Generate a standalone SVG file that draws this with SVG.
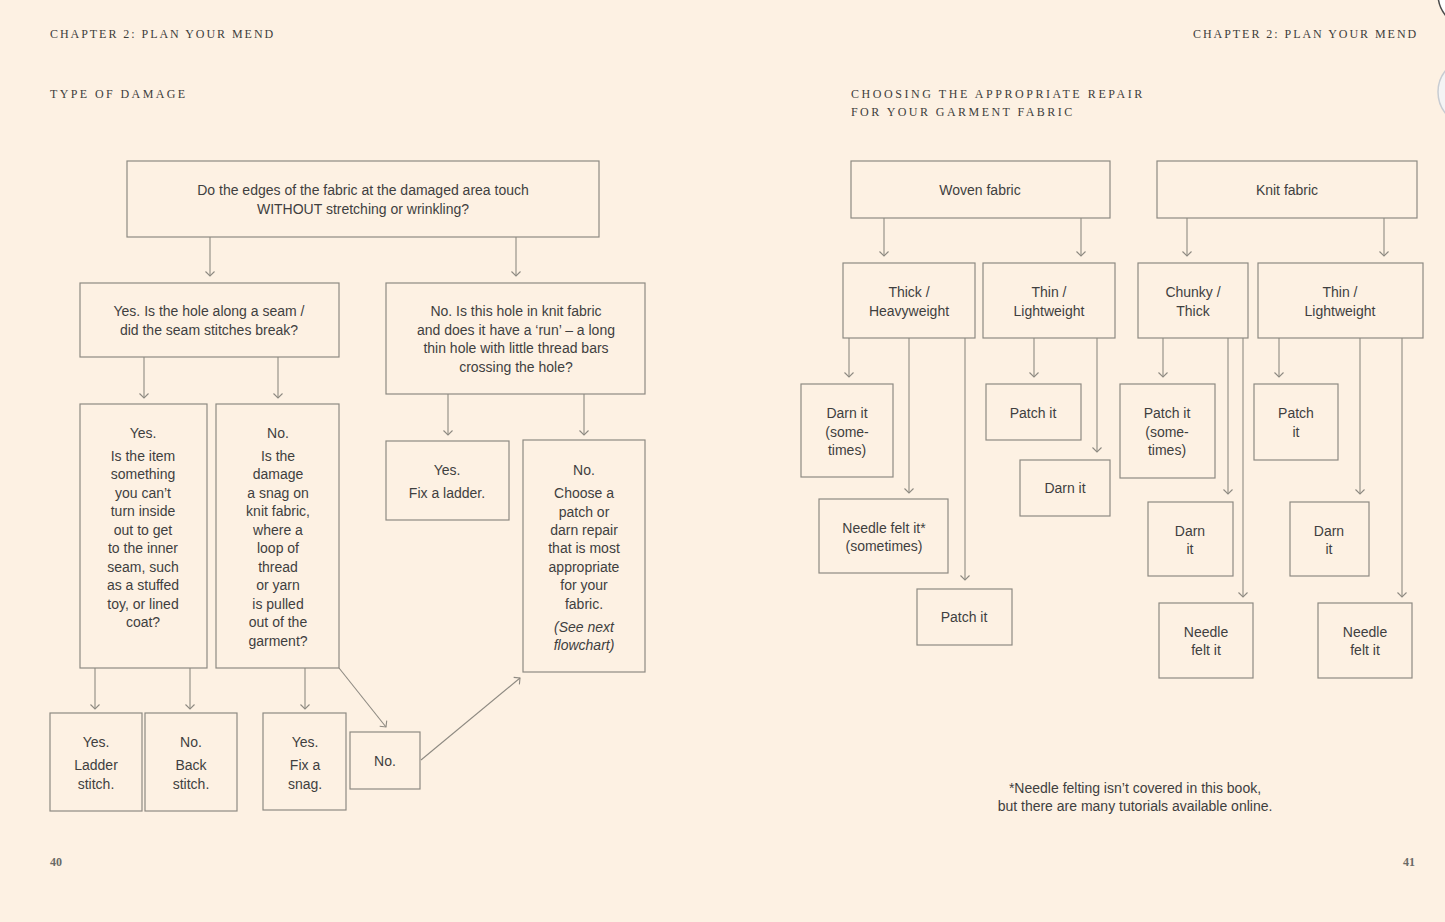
<svg xmlns="http://www.w3.org/2000/svg" width="1445" height="922" viewBox="0 0 1445 922">
<style>
.bg{fill:#fdf1e3}
.box{fill:none;stroke:#8e8a82;stroke-width:1.2}
.t{font-family:"Liberation Sans",Arial,sans-serif;font-size:14px;fill:#3f3f3f;text-anchor:middle}
.i{font-style:italic}
.h{font-family:"Liberation Serif","Times New Roman",serif;font-size:12px;fill:#3e3e3c;letter-spacing:1.8px}
.c{fill:none;stroke:#8e8a82;stroke-width:1.1;marker-end:url(#ah)}
</style>
<defs>
<marker id="ah" viewBox="0 0 12 12" refX="11" refY="6" markerWidth="12" markerHeight="12" markerUnits="userSpaceOnUse" orient="auto">
<path d="M6.5,1.5 L11,6 L6.5,10.5" fill="none" stroke="#8e8a82" stroke-width="1.1"/>
</marker>
</defs>
<rect class="bg" x="0" y="0" width="1445" height="922"/>
<circle cx="1472" cy="-6" r="34" fill="#ffffff" stroke="#4a4a4a" stroke-width="1.5"/>
<circle cx="1472" cy="92" r="34" fill="#f4f4f4" stroke="#c8ccd2" stroke-width="1.5"/>

<g id="headers">
<text class="h" x="50" y="38" textLength="225" lengthAdjust="spacing">CHAPTER 2: PLAN YOUR MEND</text>
<text class="h" x="1193" y="38" textLength="225" lengthAdjust="spacing">CHAPTER 2: PLAN YOUR MEND</text>
<text class="h" x="50" y="98" textLength="137" lengthAdjust="spacing">TYPE OF DAMAGE</text>
<text class="h" x="851" y="98" textLength="293" lengthAdjust="spacing">CHOOSING THE APPROPRIATE REPAIR</text>
<text class="h" x="851" y="116" textLength="223" lengthAdjust="spacing">FOR YOUR GARMENT FABRIC</text>
<text class="h" x="50" y="866" style="letter-spacing:0;font-weight:bold;fill:#6a6a66">40</text>
<text class="h" x="1403" y="866" style="letter-spacing:0;font-weight:bold;fill:#6a6a66">41</text>
</g>

<g id="connectors">
<line class="c" x1="210" y1="237" x2="210" y2="276"/>
<line class="c" x1="516" y1="237" x2="516" y2="276"/>
<line class="c" x1="144" y1="357" x2="144" y2="398"/>
<line class="c" x1="278" y1="357" x2="278" y2="398"/>
<line class="c" x1="448" y1="394" x2="448" y2="435"/>
<line class="c" x1="584" y1="394" x2="584" y2="435"/>
<line class="c" x1="95" y1="668" x2="95" y2="709"/>
<line class="c" x1="190" y1="668" x2="190" y2="709"/>
<line class="c" x1="305" y1="668" x2="305" y2="709"/>
<line class="c" x1="339" y1="668" x2="386" y2="727"/>
<line class="c" x1="421" y1="760" x2="520" y2="678"/>

<line class="c" x1="884" y1="218" x2="884" y2="256"/>
<line class="c" x1="1081" y1="218" x2="1081" y2="256"/>
<line class="c" x1="1187" y1="218" x2="1187" y2="256"/>
<line class="c" x1="1384" y1="218" x2="1384" y2="256"/>

<line class="c" x1="849" y1="338" x2="849" y2="377"/>
<line class="c" x1="909" y1="338" x2="909" y2="493"/>
<line class="c" x1="965" y1="338" x2="965" y2="580"/>
<line class="c" x1="1034" y1="338" x2="1034" y2="377"/>
<line class="c" x1="1097" y1="338" x2="1097" y2="452"/>
<line class="c" x1="1163" y1="338" x2="1163" y2="377"/>
<line class="c" x1="1228" y1="338" x2="1228" y2="494"/>
<line class="c" x1="1243" y1="338" x2="1243" y2="597"/>
<line class="c" x1="1279" y1="338" x2="1279" y2="377"/>
<line class="c" x1="1360" y1="338" x2="1360" y2="494"/>
<line class="c" x1="1402" y1="338" x2="1402" y2="597"/>
</g>

<g id="q-edges">
<rect class="box" x="127" y="161" width="472" height="76"/>
<text class="t" x="363" y="195">Do the edges of the fabric at the damaged area touch</text>
<text class="t" x="363" y="214">WITHOUT stretching or wrinkling?</text>
</g>
<g id="q-seam">
<rect class="box" x="80" y="283" width="259" height="74"/>
<text class="t" x="209" y="316">Yes. Is the hole along a seam /</text>
<text class="t" x="209" y="335">did the seam stitches break?</text>
</g>
<g id="q-run">
<rect class="box" x="386" y="283" width="259" height="111"/>
<text class="t" x="516" y="316">No. Is this hole in knit fabric</text>
<text class="t" x="516" y="335">and does it have a ‘run’ – a long</text>
<text class="t" x="516" y="353">thin hole with little thread bars</text>
<text class="t" x="516" y="372">crossing the hole?</text>
</g>
<g id="q-inside">
<rect class="box" x="80" y="404" width="127" height="264"/>
<text class="t" x="143" y="438">Yes.</text>
<text class="t" x="143" y="461">Is the item</text>
<text class="t" x="143" y="479">something</text>
<text class="t" x="143" y="498">you can’t</text>
<text class="t" x="143" y="516">turn inside</text>
<text class="t" x="143" y="535">out to get</text>
<text class="t" x="143" y="553">to the inner</text>
<text class="t" x="143" y="572">seam, such</text>
<text class="t" x="143" y="590">as a stuffed</text>
<text class="t" x="143" y="609">toy, or lined</text>
<text class="t" x="143" y="627">coat?</text>
</g>
<g id="q-snag">
<rect class="box" x="216" y="404" width="123" height="264"/>
<text class="t" x="278" y="438">No.</text>
<text class="t" x="278" y="461">Is the</text>
<text class="t" x="278" y="479">damage</text>
<text class="t" x="278" y="498">a snag on</text>
<text class="t" x="278" y="516">knit fabric,</text>
<text class="t" x="278" y="535">where a</text>
<text class="t" x="278" y="553">loop of</text>
<text class="t" x="278" y="572">thread</text>
<text class="t" x="278" y="590">or yarn</text>
<text class="t" x="278" y="609">is pulled</text>
<text class="t" x="278" y="627">out of the</text>
<text class="t" x="278" y="646">garment?</text>
</g>
<g id="a-ladder">
<rect class="box" x="386" y="441" width="123" height="79"/>
<text class="t" x="447" y="475">Yes.</text>
<text class="t" x="447" y="498">Fix a ladder.</text>
</g>
<g id="a-choose">
<rect class="box" x="523" y="440" width="122" height="232"/>
<text class="t" x="584" y="475">No.</text>
<text class="t" x="584" y="498">Choose a</text>
<text class="t" x="584" y="517">patch or</text>
<text class="t" x="584" y="535">darn repair</text>
<text class="t" x="584" y="553">that is most</text>
<text class="t" x="584" y="572">appropriate</text>
<text class="t" x="584" y="590">for your</text>
<text class="t" x="584" y="609">fabric.</text>
<text class="t i" x="584" y="632">(See next</text>
<text class="t i" x="584" y="650">flowchart)</text>
</g>
<g id="a-ladderstitch">
<rect class="box" x="50" y="713" width="92" height="98"/>
<text class="t" x="96" y="747">Yes.</text>
<text class="t" x="96" y="770">Ladder</text>
<text class="t" x="96" y="789">stitch.</text>
</g>
<g id="a-backstitch">
<rect class="box" x="145" y="713" width="92" height="98"/>
<text class="t" x="191" y="747">No.</text>
<text class="t" x="191" y="770">Back</text>
<text class="t" x="191" y="789">stitch.</text>
</g>
<g id="a-snag">
<rect class="box" x="263" y="713" width="83" height="97"/>
<text class="t" x="305" y="747">Yes.</text>
<text class="t" x="305" y="770">Fix a</text>
<text class="t" x="305" y="789">snag.</text>
</g>
<g id="a-no">
<rect class="box" x="350" y="732" width="70" height="57"/>
<text class="t" x="385" y="766">No.</text>
</g>

<g id="woven">
<rect class="box" x="851" y="161" width="259" height="57"/>
<text class="t" x="980" y="195">Woven fabric</text>
</g>
<g id="knit">
<rect class="box" x="1157" y="161" width="260" height="57"/>
<text class="t" x="1287" y="195">Knit fabric</text>
</g>
<g id="w-thick">
<rect class="box" x="843" y="263" width="132" height="75"/>
<text class="t" x="909" y="297">Thick /</text>
<text class="t" x="909" y="316">Heavyweight</text>
</g>
<g id="w-thin">
<rect class="box" x="983" y="263" width="132" height="75"/>
<text class="t" x="1049" y="297">Thin /</text>
<text class="t" x="1049" y="316">Lightweight</text>
</g>
<g id="k-chunky">
<rect class="box" x="1138" y="263" width="110" height="75"/>
<text class="t" x="1193" y="297">Chunky /</text>
<text class="t" x="1193" y="316">Thick</text>
</g>
<g id="k-thin">
<rect class="box" x="1258" y="263" width="165" height="75"/>
<text class="t" x="1340" y="297">Thin /</text>
<text class="t" x="1340" y="316">Lightweight</text>
</g>
<g id="w-thick-darn">
<rect class="box" x="801" y="384" width="92" height="93"/>
<text class="t" x="847" y="418">Darn it</text>
<text class="t" x="847" y="437">(some-</text>
<text class="t" x="847" y="455">times)</text>
</g>
<g id="w-thick-felt">
<rect class="box" x="819" y="499" width="129" height="74"/>
<text class="t" x="884" y="533">Needle felt it*</text>
<text class="t" x="884" y="551">(sometimes)</text>
</g>
<g id="w-thick-patch">
<rect class="box" x="917" y="589" width="95" height="56"/>
<text class="t" x="964" y="622">Patch it</text>
</g>
<g id="w-thin-patch">
<rect class="box" x="986" y="384" width="95" height="56"/>
<text class="t" x="1033" y="418">Patch it</text>
</g>
<g id="w-thin-darn">
<rect class="box" x="1020" y="460" width="90" height="56"/>
<text class="t" x="1065" y="493">Darn it</text>
</g>
<g id="k-chunky-patch">
<rect class="box" x="1120" y="384" width="95" height="94"/>
<text class="t" x="1167" y="418">Patch it</text>
<text class="t" x="1167" y="437">(some-</text>
<text class="t" x="1167" y="455">times)</text>
</g>
<g id="k-chunky-darn">
<rect class="box" x="1148" y="502" width="85" height="74"/>
<text class="t" x="1190" y="536">Darn</text>
<text class="t" x="1190" y="554">it</text>
</g>
<g id="k-chunky-felt">
<rect class="box" x="1159" y="603" width="94" height="75"/>
<text class="t" x="1206" y="637">Needle</text>
<text class="t" x="1206" y="655">felt it</text>
</g>
<g id="k-thin-patch">
<rect class="box" x="1254" y="384" width="84" height="76"/>
<text class="t" x="1296" y="418">Patch</text>
<text class="t" x="1296" y="437">it</text>
</g>
<g id="k-thin-darn">
<rect class="box" x="1290" y="502" width="79" height="74"/>
<text class="t" x="1329" y="536">Darn</text>
<text class="t" x="1329" y="554">it</text>
</g>
<g id="k-thin-felt">
<rect class="box" x="1318" y="603" width="94" height="75"/>
<text class="t" x="1365" y="637">Needle</text>
<text class="t" x="1365" y="655">felt it</text>
</g>
<g id="footnote">
<text class="t" x="1135" y="793">*Needle felting isn’t covered in this book,</text>
<text class="t" x="1135" y="811">but there are many tutorials available online.</text>
</g>
</svg>
